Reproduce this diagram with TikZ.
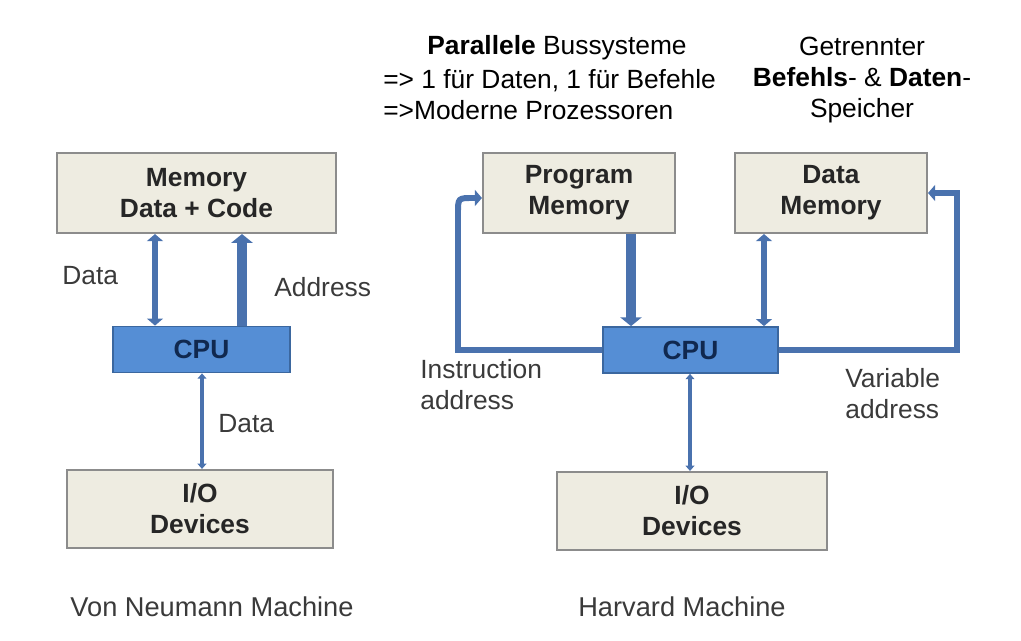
\documentclass[tikz,border=0pt]{standalone}
\usepackage{fontspec}
\setmainfont{Liberation Sans}
\usetikzlibrary{arrows.meta}

\definecolor{boxfill}{HTML}{EEECE1}
\definecolor{boxline}{HTML}{8C8C8C}
\definecolor{cpufill}{HTML}{558ED5}
\definecolor{cpuline}{HTML}{3B679F}
\definecolor{busblue}{HTML}{4A72AE}
\definecolor{cputext}{HTML}{10284F}
\definecolor{labeltext}{HTML}{3A3A3A}

\newcommand{\diafont}{\fontsize{15}{17.6}\selectfont}

\tikzset{
    membox/.style={rectangle, draw=boxline, fill=boxfill, line width=1.2pt,
        align=center, font=\diafont\bfseries, text=black!85, minimum height=1.6cm},
    cpubox/.style={rectangle, draw=cpuline, fill=cpufill, line width=1pt,
        font=\diafont\bfseries, text=cputext, minimum height=0.92cm},
    buslabel/.style={font=\diafont, text=labeltext, align=left, anchor=west, inner sep=0pt},
    caption/.style={font=\fontsize{15.5}{18}\selectfont, text=labeltext},
    bus/.style={draw=busblue, line width=3.4pt},
    widebus/.style={draw=busblue, line width=5.6pt},
    thinbus/.style={draw=busblue, line width=2.2pt},
    tip/.style={-{Triangle[width=9pt,length=4pt]}},
    twotip/.style={{Triangle[width=9pt,length=4pt]}-{Triangle[width=9pt,length=4pt]}},
    widetip/.style={-{Triangle[width=12pt,length=5pt]}},
    smalltips/.style={{Triangle[width=5pt,length=3pt]}-{Triangle[width=5pt,length=3pt]}}
}

\begin{document}
\begin{tikzpicture}[x=0.02cm, y=-0.02cm]
    \useasboundingbox (0,0) rectangle (1021,641);

    % Von Neumann
    \node[membox, minimum width=5.58cm] (mem) at (196.5,193) {Memory\\Data + Code};
    \node[cpubox, minimum width=3.54cm] (cpuL) at (201.5,349.5) {CPU};
    \node[membox, minimum width=5.32cm, minimum height=1.56cm] (ioL) at (200,509) {I/O\\Devices};

    \draw[bus, twotip] (155,0 |- cpuL.north) -- (155,0 |- mem.south);
    \draw[widebus, widetip] (242,0 |- cpuL.north) -- (242,0 |- mem.south);
    \draw[thinbus, smalltips] (202,0 |- cpuL.south) -- (202,0 |- ioL.north);

    \node[buslabel] (dataL) at (62,276) {Data};
    \node[buslabel] (addrL) at (274,287) {Address};
    \node[buslabel] (ioDataL) at (218,424) {Data};
    \node[caption] (vonneumann) at (212,607) {Von Neumann Machine};

    % Harvard
    \node[membox, minimum width=3.84cm] (prog) at (579,193) {Program\\Memory};
    \node[membox, minimum width=3.84cm] (dmem) at (831,193) {Data\\Memory};
    \node[cpubox, minimum width=3.5cm] (cpuR) at (690.5,350) {CPU};
    \node[membox, minimum width=5.4cm, minimum height=1.56cm] (ioR) at (692,511) {I/O\\Devices};

    \draw[widebus, widetip] (631,0 |- prog.south) -- (631,0 |- cpuR.north);
    \draw[bus, twotip] (764,0 |- cpuR.north) -- (764,0 |- dmem.south);
    \draw[thinbus, smalltips] (690,0 |- cpuR.south) -- (690,0 |- ioR.north);
    \draw[bus, tip] (cpuR.west) -- (458,350) -- (458,213) .. controls (458,198) .. (473,198) -- (prog.west |- 0,198);
    \draw[bus, tip] (cpuR.east) -- (957,350) -- (957,193) -- (dmem.east |- 0,193);

    \node[buslabel] (instr) at (420,385) {Instruction\\address};
    \node[buslabel] (var) at (845,394) {Variable\\address};
    \node[caption] (harvard) at (682,607) {Harvard Machine};

    % Anmerkungen oben
    \node[font=\diafont] (parallel) at (557,48) {\textbf{Parallele} Bussysteme};
    \node[font=\diafont, align=left, anchor=west, inner sep=0pt] (parlines) at (383,95) {=> 1 für Daten, 1 für Befehle\\=>Moderne Prozessoren};
    \node[font=\diafont, align=center] (getrennt) at (862,80) {Getrennter\\\textbf{Befehls}- \& \textbf{Daten}-\\Speicher};
\end{tikzpicture}
\end{document}
